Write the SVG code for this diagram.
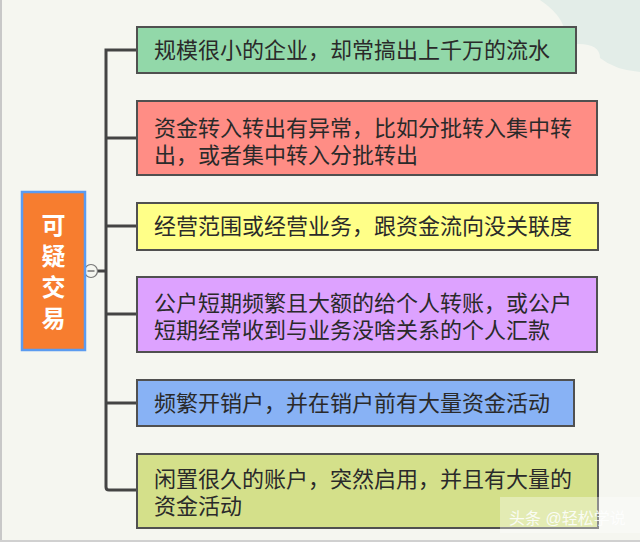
<svg xmlns="http://www.w3.org/2000/svg" width="640" height="542" viewBox="0 0 640 542">
<style>
.box{stroke:#505050;stroke-width:2}
.t{font-family:"Liberation Sans","Noto Sans CJK SC",sans-serif;font-size:22px;fill:#2a2a2a}
.root{font-family:"Liberation Sans","Noto Sans CJK SC",sans-serif;font-size:24px;font-weight:bold;fill:#ffffff}
.conn{fill:none;stroke:#444;stroke-width:3}
</style>
<rect x="0" y="0" width="640" height="542" fill="#f5f6f0"/>
<path d="M640 0 L540 0 Q570 20 565 45 Q600 40 600 58 Q615 70 640 72 Z" fill="#e3ede8"/>
<line x1="1" y1="0" x2="1" y2="542" stroke="#c8c8c8" stroke-width="2"/>
<line x1="0" y1="541" x2="640" y2="541" stroke="#d0d0d0" stroke-width="2"/>
<g id="connectors">
<path class="conn" d="M109 50 L106 50 Q106 50 106 53 L106 487 Q106 490 109 490 L136 490"/>
<path class="conn" d="M109 50 L136 50"/>
<path class="conn" d="M106 138 L136 138"/>
<path class="conn" d="M106 226 L136 226"/>
<path class="conn" d="M106 314 L136 314"/>
<path class="conn" d="M106 403 L136 403"/>
<path class="conn" d="M86 271 L106 271"/>
<circle cx="91" cy="271" r="6.5" fill="#f5f6f0" stroke="#777" stroke-width="1.2"/>
<line x1="87.5" y1="271" x2="94.5" y2="271" stroke="#555" stroke-width="1.2"/>
</g>
<g id="root">
<rect x="22" y="192" width="63" height="158" fill="#f77d2f" stroke="#5b9bf0" stroke-width="2.5"/>
<text class="root" text-anchor="middle"><tspan x="53.5" y="234">可</tspan><tspan x="53.5" y="265">疑</tspan><tspan x="53.5" y="296">交</tspan><tspan x="53.5" y="327">易</tspan></text>
</g>
<g id="n1">
<rect class="box" x="137" y="27" width="439" height="46" fill="#92d8a9"/>
<text class="t" x="154" y="58">规模很小的企业，却常搞出上千万的流水</text>
</g>
<g id="n2">
<rect class="box" x="137" y="101" width="460" height="74" fill="#ff8d85"/>
<text class="t"><tspan x="154" y="136">资金转入转出有异常，比如分批转入集中转</tspan><tspan x="154" y="163">出，或者集中转入分批转出</tspan></text>
</g>
<g id="n3">
<rect class="box" x="137" y="203" width="461" height="47" fill="#ffff88"/>
<text class="t" x="154" y="234">经营范围或经营业务，跟资金流向没关联度</text>
</g>
<g id="n4">
<rect class="box" x="137" y="277" width="460" height="75" fill="#dda2ff"/>
<text class="t"><tspan x="154" y="311">公户短期频繁且大额的给个人转账，或公户</tspan><tspan x="154" y="338">短期经常收到与业务没啥关系的个人汇款</tspan></text>
</g>
<g id="n5">
<rect class="box" x="137" y="380" width="437" height="46" fill="#88b2f5"/>
<text class="t" x="154" y="411">频繁开销户，并在销户前有大量资金活动</text>
</g>
<g id="n6">
<rect class="box" x="137" y="454" width="461" height="74" fill="#d4e08a"/>
<text class="t"><tspan x="154" y="487">闲置很久的账户，突然启用，并且有大量的</tspan><tspan x="154" y="514">资金活动</tspan></text>
</g>
<rect x="500" y="497" width="140" height="36" fill="#ffffff" opacity="0.35"/>
<text x="509" y="524" font-family="Liberation Sans,Noto Sans CJK SC,sans-serif" font-size="16" fill="#ffffff" opacity="0.85">头条 @轻松学说</text>
</svg>
